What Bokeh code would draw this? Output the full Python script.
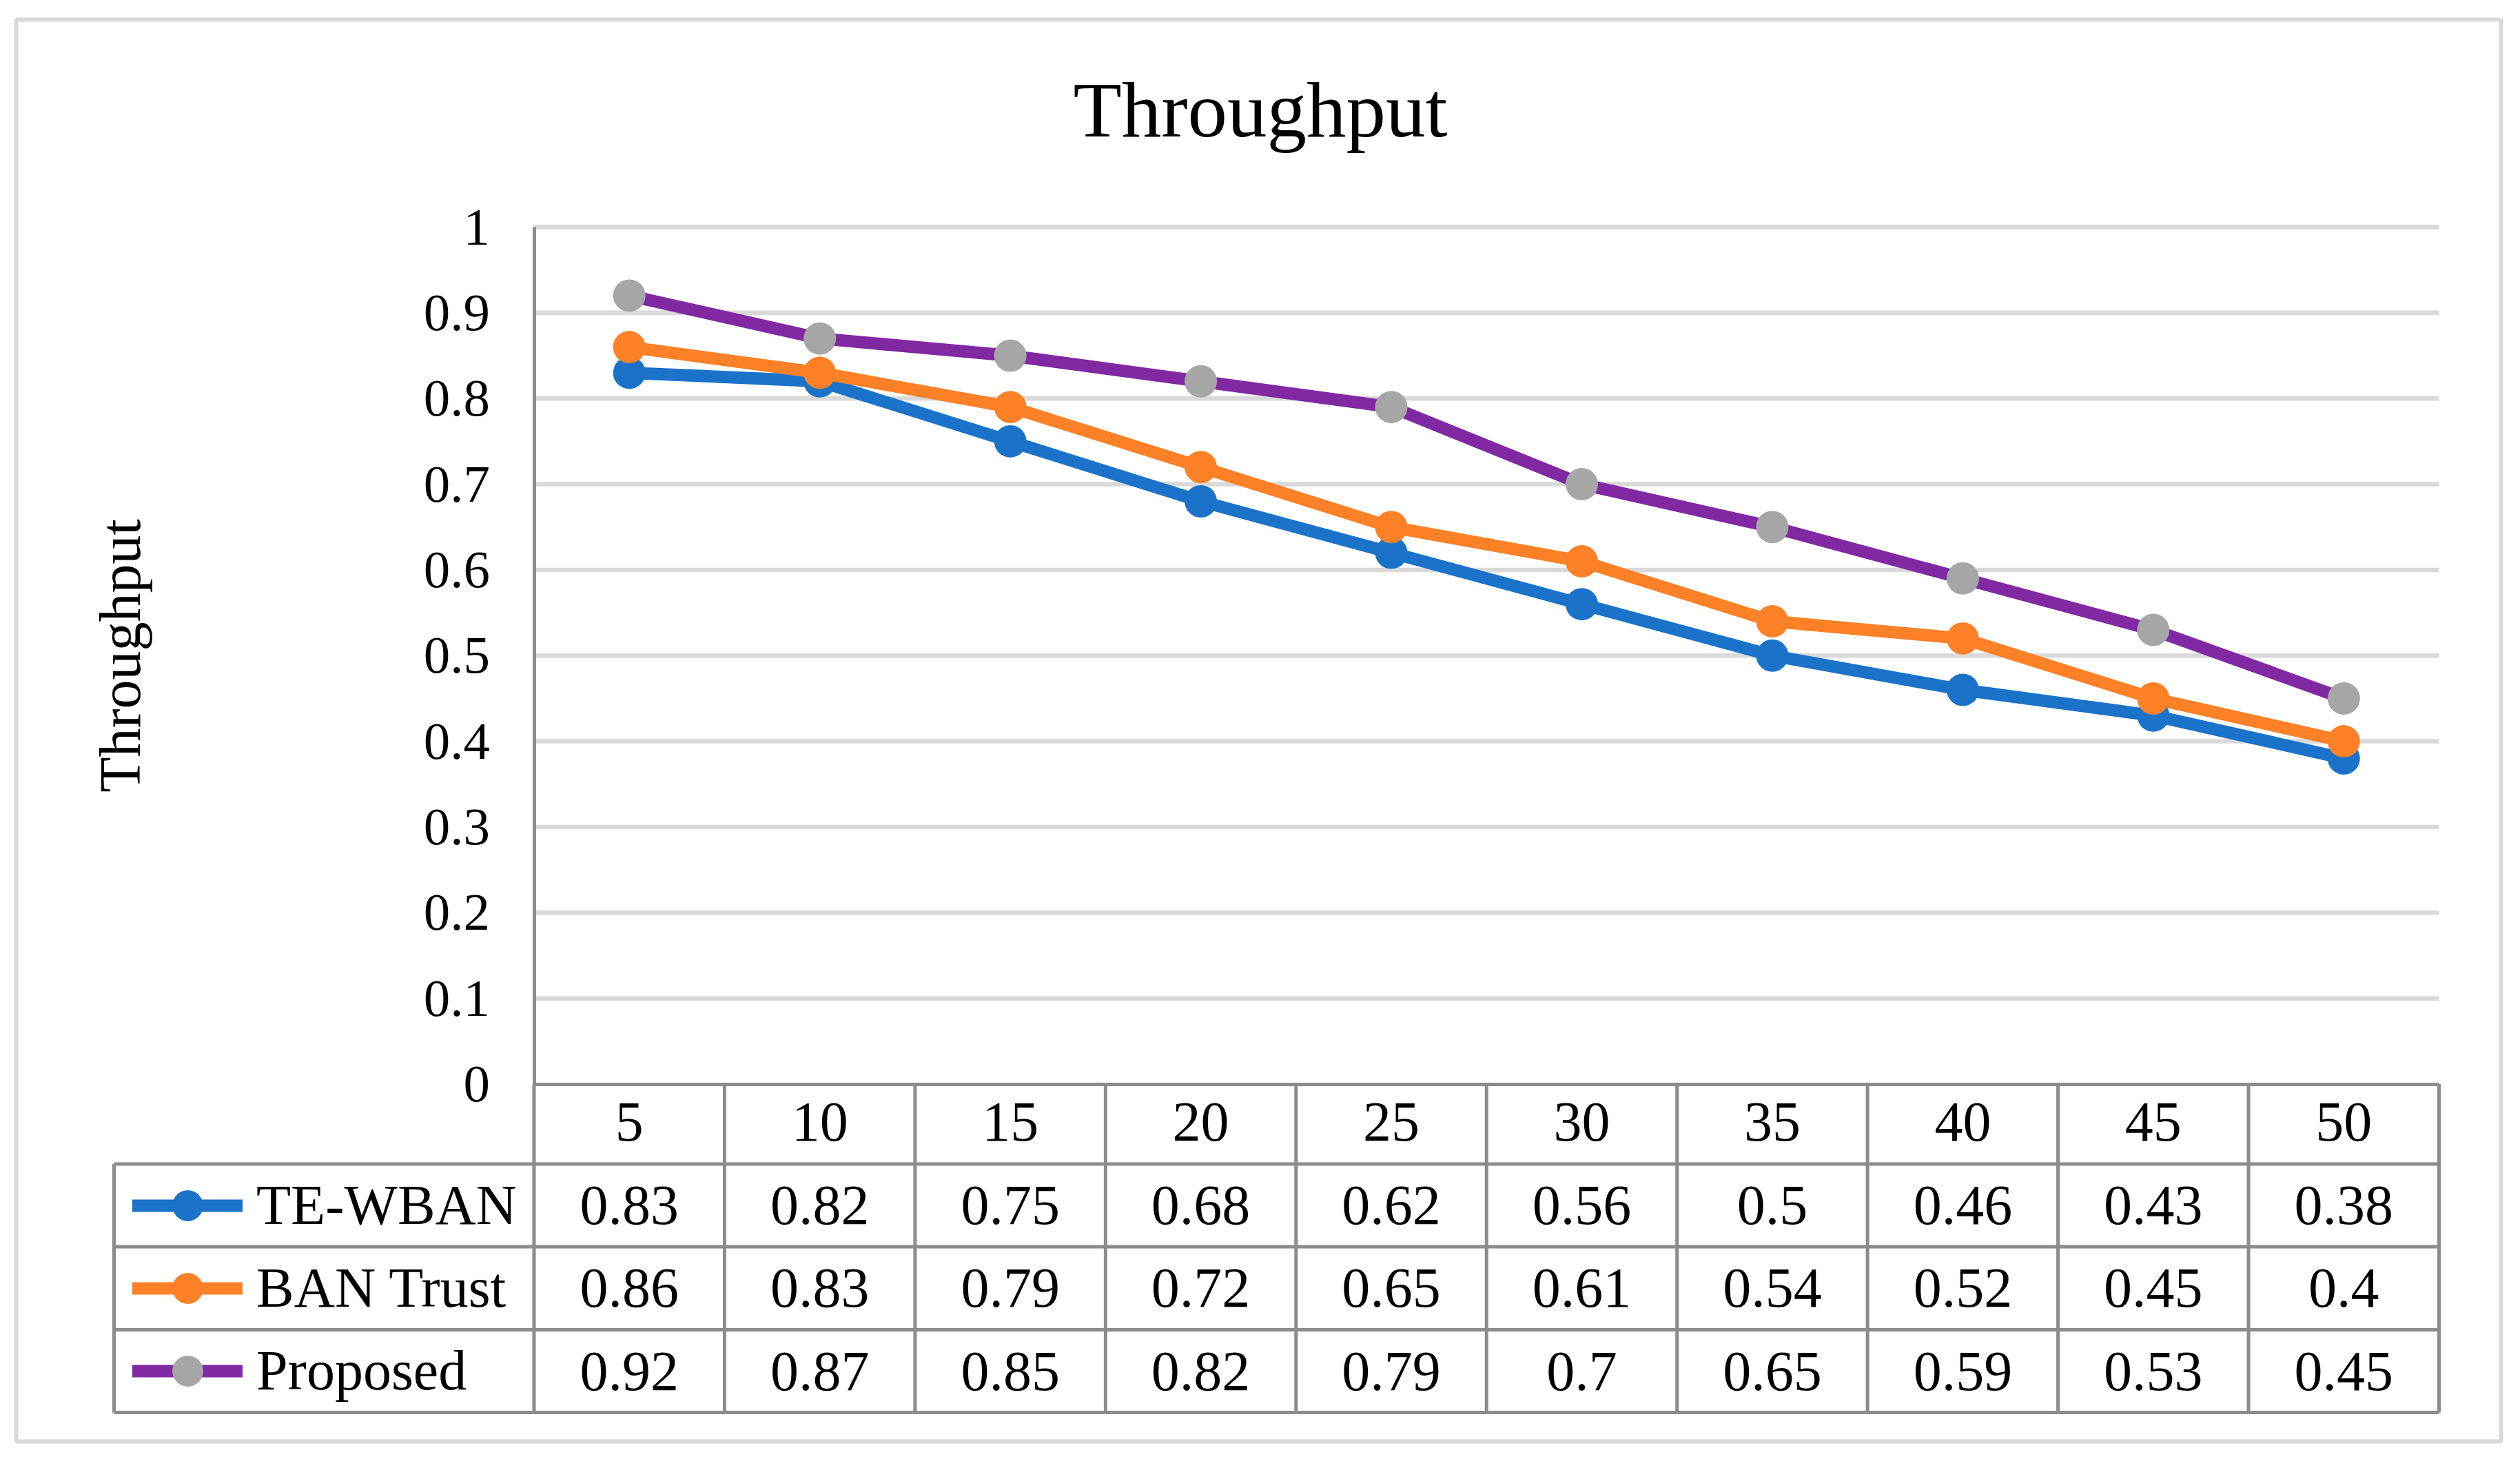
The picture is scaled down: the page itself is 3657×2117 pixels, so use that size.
from bokeh.plotting import figure
from bokeh.models import Range1d, LinearAxis, FixedTicker, Legend, LegendItem, Label
from bokeh.core.properties import value
from bokeh.embed import file_html
from bokeh.resources import INLINE

# ---------------- data ----------------
categories = [5, 10, 15, 20, 25, 30, 35, 40, 45, 50]
x_tick_labels = ["5", "10", "15", "20", "25", "30", "35", "40", "45", "50"]
te_wban = [0.83, 0.82, 0.75, 0.68, 0.62, 0.56, 0.50, 0.46, 0.43, 0.38]
ban_trust = [0.86, 0.83, 0.79, 0.72, 0.65, 0.61, 0.54, 0.52, 0.45, 0.40]
proposed = [0.92, 0.87, 0.85, 0.82, 0.79, 0.70, 0.65, 0.59, 0.53, 0.45]
series_names = ["TE-WBAN", "BAN Trust", "Proposed"]
y_ticks = [0.0, 0.1, 0.2, 0.3, 0.4, 0.5, 0.6, 0.7, 0.8, 0.9, 1.0]
y_tick_labels = ["0", "0.1", "0.2", "0.3", "0.4", "0.5", "0.6", "0.7", "0.8", "0.9", "1"]
chart_title = "Throughput"
y_title = "Throughput"

# ---------------- styles ----------------
FONT = "Liberation Serif"
LINE_COLORS = ["#1a73c8", "#fe8027", "#8129a3"]
MARKER_COLORS = ["#1a73c8", "#fe8027", "#a6a6a6"]
GRID_COLOR = "#d9d9d9"
TABLE_COLOR = "#8c8c8c"

# ---------------- layout (reference pixels) ----------------
MARGIN = 0
W, H = 3656, 2116
FR_L, FR_T, FR_R, FR_B = 23, 28, 3629, 2091      # outer border box (= frame)
PA_L, PA_R = 774.5, 3539                         # plot area left/right
PY0, PY1 = 1572.5, 329                           # pixel of y=0 and y=1
ROW_EDGES = [1572.5, 1688.5, 1808.5, 1929, 2049] # table row boundaries
TABLE_LEFT = 165
LEG_GL_L, LEG_GL_R = 192, 352
GLYPH_H = 112
TITLE_X, TITLE_MID = 1828.5, 159

step = categories[1] - categories[0]
cat_lo = categories[0] - step / 2
cat_hi = categories[-1] + step / 2
ppx = (PA_R - PA_L) / (cat_hi - cat_lo)
ppy = (PY0 - PY1)


def xd(px):
    return cat_lo + (px - PA_L) / ppx


def yd(px):
    return (PY0 - px) / ppy


p = figure(width=W, height=H,
           x_range=Range1d(xd(FR_L), xd(FR_R)), y_range=Range1d(yd(FR_B), yd(FR_T)),
           x_axis_location=None, y_axis_location=None,
           toolbar_location=None, tools="", output_backend="svg", title=None,
           min_border_left=FR_L - MARGIN, min_border_top=FR_T - MARGIN,
           min_border_right=W - (FR_R - MARGIN), min_border_bottom=H - (FR_B - MARGIN))
p.grid.visible = False
p.background_fill_color = "white"
p.border_fill_color = "white"
p.outline_line_color = GRID_COLOR
p.outline_line_width = 6

# gridlines
gy = y_ticks[1:]
p.segment(x0=[cat_lo] * len(gy), y0=gy, x1=[cat_hi] * len(gy), y1=gy,
          line_color=GRID_COLOR, line_width=6.5)

# table lines
row_y = [yd(v) for v in ROW_EDGES]
hx0, hy, hx1 = [], [], []
for yv in row_y[1:]:
    hx0.append(xd(TABLE_LEFT)); hx1.append(cat_hi); hy.append(yv)
p.segment(x0=hx0, y0=hy, x1=hx1, y1=hy, line_color=TABLE_COLOR, line_width=5)
vx = [cat_lo + i * step for i in range(len(categories) + 1)]
p.segment(x0=vx, y0=[row_y[0]] * len(vx), x1=vx, y1=[row_y[-1]] * len(vx),
          line_color=TABLE_COLOR, line_width=5)
p.segment(x0=[xd(TABLE_LEFT)], y0=[row_y[1]], x1=[xd(TABLE_LEFT)], y1=[row_y[-1]],
          line_color=TABLE_COLOR, line_width=5)

# series
all_series = [te_wban, ban_trust, proposed]
items = []
for name, vals, lc, mc in zip(series_names, all_series, LINE_COLORS, MARKER_COLORS):
    lr = p.line(categories, vals, line_color=lc, line_width=18, line_cap="round", line_join="round")
    sr = p.scatter(categories, vals, size=47, fill_color=mc, line_color=None)
    items.append(LegendItem(label=name, renderers=[lr, sr]))

# table values
tx, ty, tt = [], [], []
for r, vals in enumerate(all_series):
    yc = (row_y[r + 1] + row_y[r + 2]) / 2
    for c, v in zip(categories, vals):
        tx.append(c); ty.append(yc); tt.append(f"{v:g}")
p.text(x=tx, y=ty, text=tt, text_font=value(FONT), text_font_size="82px",
       text_align="center", text_baseline="middle", text_color="black")

# legend inside the table
pitch = (ROW_EDGES[-1] - ROW_EDGES[1]) / 3
spacing = pitch - GLYPH_H
first_c = (ROW_EDGES[1] + ROW_EDGES[2]) / 2
leg_bottom = first_c - GLYPH_H / 2 + 3 * GLYPH_H + 2 * spacing
legend = Legend(items=items, location=(LEG_GL_L - FR_L, FR_B - leg_bottom),
                orientation="vertical", glyph_width=LEG_GL_R - LEG_GL_L, glyph_height=GLYPH_H,
                spacing=int(round(spacing)), padding=0, margin=0, label_standoff=20,
                label_text_font=FONT, label_text_font_size="82px", label_text_color="black",
                label_text_baseline="middle", label_height=GLYPH_H,
                border_line_color=None, background_fill_alpha=0)
p.add_layout(legend, "center")

# y axis
yaxis = LinearAxis(fixed_location=cat_lo, bounds=(0, 1),
                   ticker=FixedTicker(ticks=y_ticks),
                   major_label_overrides={t: l for t, l in zip(y_ticks, y_tick_labels)},
                   major_tick_in=0, major_tick_out=0, minor_tick_in=0, minor_tick_out=0,
                   major_tick_line_color=None, minor_tick_line_color=None,
                   axis_line_color=TABLE_COLOR, axis_line_width=5,
                   major_label_standoff=64, major_label_text_font=FONT,
                   major_label_text_font_size="77px", major_label_text_color="black",
                   axis_label=y_title, axis_label_standoff=391, axis_label_text_font=FONT,
                   axis_label_text_font_size="84px", axis_label_text_font_style="normal",
                   axis_label_text_color="black")
p.add_layout(yaxis, "left")

# x axis (table header)
xaxis = LinearAxis(fixed_location=0.0, bounds=(cat_lo, cat_hi),
                   ticker=FixedTicker(ticks=categories),
                   major_label_overrides={c: l for c, l in zip(categories, x_tick_labels)},
                   major_tick_in=0, major_tick_out=0, minor_tick_in=0, minor_tick_out=0,
                   major_tick_line_color=None, minor_tick_line_color=None,
                   axis_line_color=TABLE_COLOR, axis_line_width=5,
                   major_label_standoff=28, major_label_text_font=FONT,
                   major_label_text_font_size="82px", major_label_text_color="black")
p.add_layout(xaxis, "below")

# title
p.add_layout(Label(x=xd(TITLE_X), y=yd(TITLE_MID), text=chart_title, text_align="center",
                   text_baseline="middle", text_font=FONT, text_font_size="115px",
                   text_color="black"))

open("out.html", "w").write(file_html(p, INLINE))
